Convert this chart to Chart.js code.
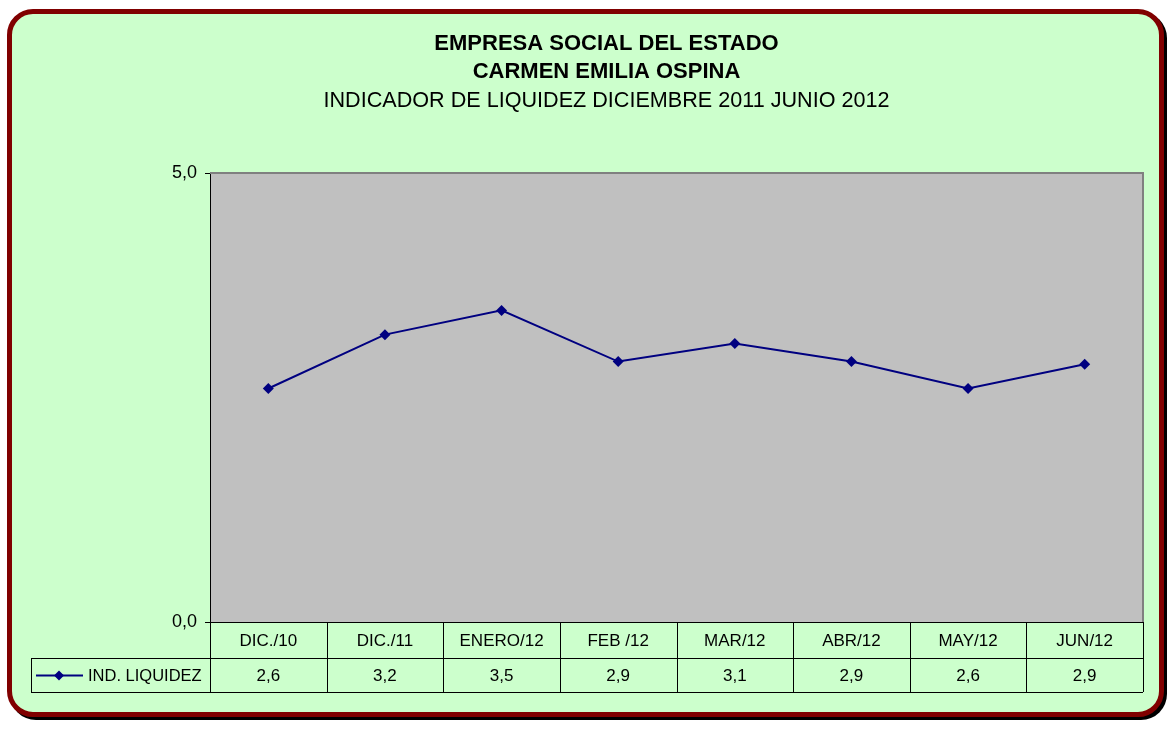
<!DOCTYPE html>
<html>
<head>
<meta charset="utf-8">
<script src="https://cdn.jsdelivr.net/npm/chart.js@4"></script>
<style>
  html, body { margin: 0; padding: 0; width: 1167px; height: 729px; background: #ffffff; overflow: hidden; }
  .frame {
    position: absolute; left: 7px; top: 9px; width: 1147px; height: 698px;
    background: #CCFFCC; border: 5px solid #800000; border-radius: 26px;
    box-shadow: 3px 3px 0 #000000;
  }
  #chart { position: absolute; left: 0; top: 0; }
</style>
</head>
<body>
<div class="frame"></div>
<canvas id="chart" width="1167" height="729"></canvas>
<script>
// data
const months = ["DIC./10", "DIC./11", "ENERO/12", "FEB /12", "MAR/12", "ABR/12", "MAY/12", "JUN/12"];
const liquidez = [2.6, 3.2, 3.47, 2.9, 3.1, 2.9, 2.6, 2.87];
const seriesName = "IND. LIQUIDEZ";
const titleLines = ["EMPRESA SOCIAL DEL ESTADO", "CARMEN EMILIA OSPINA"];
const subtitleText = "INDICADOR DE LIQUIDEZ DICIEMBRE 2011 JUNIO 2012";

const FONT = "'Liberation Sans', Arial, sans-serif";
const lineColor = '#000080';

const fmt = v => v.toFixed(1).replace('.', ',');

// gray plot area + grey frame on top / right
const plotArea = {
  id: 'plotArea',
  beforeDraw(chart) {
    const { ctx, chartArea: a } = chart;
    ctx.save();
    ctx.fillStyle = '#C0C0C0';
    ctx.fillRect(a.left, a.top, a.right - a.left, a.bottom - a.top);
    ctx.restore();
  },
  beforeDatasetsDraw(chart) {
    const { ctx, chartArea: a } = chart;
    ctx.save();
    ctx.strokeStyle = '#808080';
    ctx.lineWidth = 2;
    ctx.beginPath();
    ctx.moveTo(a.left, a.top);
    ctx.lineTo(a.right, a.top);
    ctx.lineTo(a.right, a.bottom);
    ctx.stroke();
    ctx.restore();
  }
};

// data table under the x axis
const dataTable = {
  id: 'dataTable',
  afterDraw(chart) {
    const { ctx, chartArea: a } = chart;
    const x = chart.scales.x;
    const row1 = a.bottom, row2 = a.bottom + 36, row3 = a.bottom + 70;
    const legendLeft = 31;
    const half = (x.getPixelForValue(1) - x.getPixelForValue(0)) / 2;

    ctx.save();
    ctx.strokeStyle = '#000000';
    ctx.lineWidth = 1;
    ctx.beginPath();
    // horizontal lines
    ctx.moveTo(a.left, row1 + 0.5); ctx.lineTo(a.right, row1 + 0.5);
    ctx.moveTo(legendLeft, row2 + 0.5); ctx.lineTo(a.right, row2 + 0.5);
    ctx.moveTo(legendLeft, row3 + 0.5); ctx.lineTo(a.right, row3 + 0.5);
    // vertical lines
    ctx.moveTo(legendLeft + 0.5, row2); ctx.lineTo(legendLeft + 0.5, row3);
    ctx.moveTo(a.left + 0.5, row1); ctx.lineTo(a.left + 0.5, row3);
    months.forEach((m, i) => {
      const xr = Math.round(x.getPixelForValue(i) + half) + 0.5;
      ctx.moveTo(xr, row1); ctx.lineTo(xr, row3);
    });
    ctx.stroke();

    ctx.fillStyle = '#000000';
    ctx.font = '17px ' + FONT;
    ctx.textAlign = 'center';
    ctx.textBaseline = 'middle';
    months.forEach((m, i) => {
      const cx = x.getPixelForValue(i);
      ctx.fillText(m, cx, (row1 + row2) / 2 + 1);
      ctx.fillText(fmt(liquidez[i]), cx, (row2 + row3) / 2 + 1);
    });

    // legend key
    const ly = (row2 + row3) / 2 + 0.5;
    ctx.strokeStyle = lineColor;
    ctx.lineWidth = 2;
    ctx.beginPath();
    ctx.moveTo(36, ly); ctx.lineTo(83, ly);
    ctx.stroke();
    ctx.fillStyle = lineColor;
    ctx.beginPath();
    ctx.moveTo(59, ly - 5); ctx.lineTo(64, ly); ctx.lineTo(59, ly + 5); ctx.lineTo(54, ly);
    ctx.closePath();
    ctx.fill();
    ctx.fillStyle = '#000000';
    ctx.textAlign = 'left';
    ctx.font = '16.5px ' + FONT;
    ctx.fillText(seriesName, 88, ly + 0.5);
    ctx.restore();
  }
};

new Chart(document.getElementById('chart'), {
  type: 'line',
  data: {
    labels: months,
    datasets: [{
      label: seriesName,
      data: liquidez,
      borderColor: lineColor,
      backgroundColor: lineColor,
      borderWidth: 2,
      pointStyle: 'rectRot',
      pointRadius: 5.5,
      pointBackgroundColor: lineColor,
      pointBorderColor: lineColor,
      pointBorderWidth: 0,
      tension: 0
    }]
  },
  options: {
    responsive: false,
    animation: false,
    layout: { padding: { top: 20, left: 70, right: 24, bottom: 37 } },
    plugins: {
      legend: { display: false },
      tooltip: { enabled: false },
      title: {
        display: true,
        text: titleLines,
        color: '#000000',
        font: { family: FONT, size: 22, weight: 'bold', lineHeight: 28 / 22 },
        padding: { top: 10, bottom: 0 }
      },
      subtitle: {
        display: true,
        text: subtitleText,
        color: '#000000',
        font: { family: FONT, size: 21.6, weight: 'normal', lineHeight: 28 / 21.6 },
        padding: { top: 1, bottom: 58 }
      }
    },
    scales: {
      x: {
        offset: true,
        ticks: { display: false },
        grid: { drawOnChartArea: false, drawTicks: false },
        border: { display: true, color: '#000000', width: 1 },
        afterFit: s => { s.height = 70; }
      },
      y: {
        min: 0,
        max: 5,
        ticks: {
          stepSize: 5,
          color: '#000000',
          padding: 8,
          font: { family: FONT, size: 18 },
          callback: v => fmt(v)
        },
        grid: { drawOnChartArea: false, tickLength: 5, color: '#000000' },
        border: { display: true, color: '#000000', width: 1 },
        afterFit: s => { s.width = 140; }
      }
    }
  },
  plugins: [plotArea, dataTable]
});
</script>
</body>
</html>
